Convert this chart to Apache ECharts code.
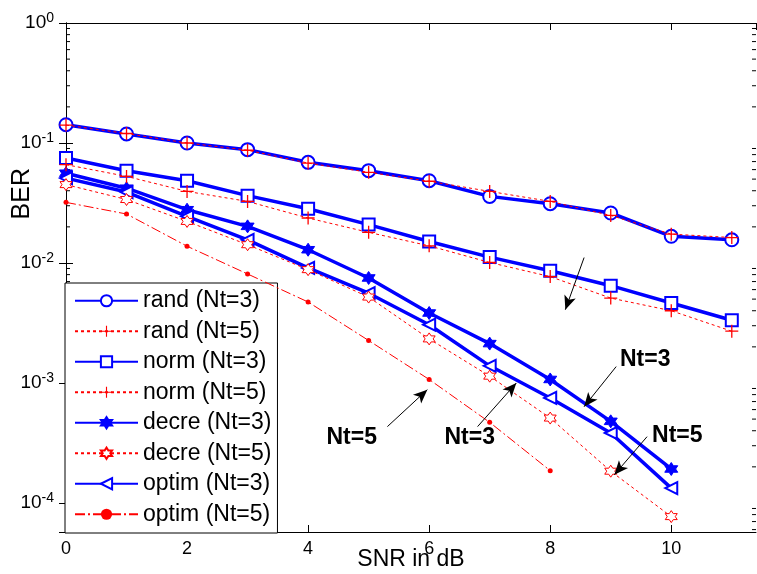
<!DOCTYPE html>
<html>
<head>
<meta charset="utf-8">
<script src="https://cdn.jsdelivr.net/npm/echarts@6/dist/echarts.min.js"></script>
<style>
  html, body { margin: 0; padding: 0; background: #fff; }
  #chart { width: 757px; height: 574px; }
</style>
</head>
<body>
<div id="chart"></div>
<script>
// SNR points (dB)
const snr = [0, 1, 2, 3, 4, 5, 6, 7, 8, 9, 10, 11];

// BER values
const randNt3 = [0.142, 0.119, 0.100, 0.088, 0.069, 0.0588, 0.0485, 0.0359, 0.0312, 0.0261, 0.0167, 0.0156];
const randNt5 = [0.141, 0.120, 0.100, 0.087, 0.068, 0.057, 0.048, 0.0395, 0.0326, 0.0249, 0.0174, 0.0163];
const normNt3 = [0.075, 0.0588, 0.0485, 0.0364, 0.0283, 0.0209, 0.0151, 0.0112, 0.00862, 0.00647, 0.00464, 0.00333];
const normNt5 = [0.066, 0.0527, 0.0395, 0.0326, 0.0237, 0.0180, 0.0139, 0.0101, 0.0077, 0.0051, 0.0040, 0.0027];
const decreNt3 = [0.056, 0.042, 0.0278, 0.0202, 0.0129, 0.0075, 0.00383, 0.00213, 0.00107, 0.000479, 0.000192];
const decreNt5 = [0.045, 0.0338, 0.0222, 0.0142, 0.0088, 0.0052, 0.00233, 0.00114, 0.00051, 0.000184, 0.000077];
const optimNt3 = [0.051, 0.039, 0.0245, 0.0156, 0.0091, 0.0056, 0.00306, 0.00139, 0.00075, 0.000383, 0.000133];
const optimNt5 = [0.032, 0.0256, 0.0138, 0.0081, 0.00473, 0.00226, 0.00107, 0.00047, 0.000186];

// axis ranges
const xMin = 0, xMax = 11.4;
const yMin = 5.73e-5, yMax = 1;
const minorMantissa = [2, 3, 4, 5, 6, 7, 8, 9];
const minorDecades = [-5, -4, -3, -2, -1];

// annotation arrows [from, to] and texts
const arrowLines = [
  [[5.31, 4.33e-4], [5.97, 8.8e-4]],
  [[6.80, 4.33e-4], [7.44, 1.0e-3]],
  [[9.09, 1.37e-3], [8.56, 6.35e-4]],
  [[9.60, 3.57e-4], [9.06, 1.72e-4]],
  [[8.56, 0.0111], [8.25, 0.00408]]
];
const noteTexts = ['Nt=5', 'Nt=3', 'Nt=3', 'Nt=5'];
const noteX = [4.72, 6.67, 9.57, 10.1];
const noteY = [3.5e-4, 3.5e-4, 1.56e-3, 3.64e-4];

const FONT = 'Liberation Sans, Arial, sans-serif';
const BLUE = '#0000ff';
const RED = '#ff0000';

const plusPath = 'path://M4.5,0h1v4.5h4.5v1h-4.5v4.5h-1v-4.5h-4.5v-1h4.5z';
const starPath = 'path://M0,-10L2.9,-5L8.66,-5L5.8,0L8.66,5L2.9,5L0,10L-2.9,5L-8.66,5L-5.8,0L-8.66,-5L-2.9,-5Z';

const pairs = (ys) => ys.map((v, i) => [snr[i], v]);

const minorTicks = [];
minorDecades.forEach(d => {
  minorMantissa.forEach(m => {
    const v = m * Math.pow(10, d);
    if (v > yMin && v < yMax) {
      minorTicks.push([xMin, v, 1]);
      minorTicks.push([xMax, v, -1]);
    }
  });
});

function blueSeries(name, ys, symbol, extra) {
  return Object.assign({
    name: name,
    type: 'line',
    data: pairs(ys),
    symbol: symbol,
    symbolSize: 12,
    lineStyle: { color: BLUE, width: 3.5 },
    itemStyle: { color: BLUE, borderColor: BLUE, borderWidth: 2.5 },
    z: 3
  }, extra || {});
}

function redSeries(name, ys, symbol, size, dash, extra) {
  return Object.assign({
    name: name,
    type: 'line',
    data: pairs(ys),
    symbol: symbol,
    symbolSize: size,
    lineStyle: { color: RED, width: 1, type: dash },
    itemStyle: { color: RED, borderWidth: 0 },
    z: 4
  }, extra || {});
}

const chart = echarts.init(document.getElementById('chart'), null, { renderer: 'canvas' });

const option = {
  animation: false,
  backgroundColor: '#fff',
  textStyle: { fontFamily: FONT },
  grid: { left: 66, right: 1, top: 23, bottom: 42, outerBoundsMode: 'none', containLabel: false },
  legend: {
    orient: 'vertical',
    left: 65,
    top: 283,
    backgroundColor: '#fff',
    borderColor: '#000',
    borderWidth: 1,
    borderRadius: 0,
    padding: [6, 6, 7, 9],
    itemWidth: 63,
    itemHeight: 14,
    itemGap: 7,
    textStyle: { fontSize: 23, color: '#000', fontFamily: FONT, lineHeight: 23.5 },
    data: ['rand (Nt=3)', 'rand (Nt=5)', 'norm (Nt=3)', 'norm (Nt=5)',
           'decre (Nt=3)', 'decre (Nt=5)', 'optim (Nt=3)', 'optim (Nt=5)']
  },
  xAxis: [{
    type: 'value',
    min: xMin,
    max: xMax,
    interval: 2,
    name: 'SNR in dB',
    nameLocation: 'middle',
    nameGap: 16,
    nameMoveOverlap: false,
    nameTextStyle: { fontSize: 23, color: '#000', fontFamily: FONT },
    axisLine: { lineStyle: { color: '#000', width: 1 } },
    axisTick: { inside: true, length: 7, lineStyle: { color: '#000' } },
    axisLabel: { fontSize: 18, color: '#000', margin: 8, showMaxLabel: false },
    splitLine: { show: false }
  }, {
    type: 'value',
    position: 'top',
    min: xMin,
    max: xMax,
    interval: 2,
    axisLine: { show: true, lineStyle: { color: '#000', width: 1 } },
    axisTick: { inside: true, length: 7, lineStyle: { color: '#000' } },
    axisLabel: { show: false },
    splitLine: { show: false }
  }],
  yAxis: [{
    type: 'log',
    min: yMin,
    max: yMax,
    axisLine: { show: true, lineStyle: { color: '#000', width: 1 } },
    axisTick: { inside: true, length: 7, lineStyle: { color: '#000' } },
    axisLabel: {
      fontSize: 19,
      color: '#000',
      margin: 12,
      showMinLabel: false,
      formatter: v => '10{sup|' + Math.round(Math.log10(v)) + '}',
      rich: { sup: { fontSize: 14, fontFamily: FONT, color: '#000', padding: [0, 0, 10, 0] } }
    },
    splitLine: { show: false }
  }, {
    type: 'log',
    position: 'right',
    min: yMin,
    max: yMax,
    axisLine: { show: true, lineStyle: { color: '#000', width: 1 } },
    axisTick: { inside: true, length: 7, lineStyle: { color: '#000' } },
    axisLabel: { show: false },
    splitLine: { show: false }
  }],
  graphic: [{
    type: 'text',
    left: 10,
    top: 168,
    rotation: Math.PI / 2,
    style: { text: 'BER', fontSize: 25, fill: '#000', fontFamily: FONT }
  }],
  series: [
    blueSeries('rand (Nt=3)', randNt3, 'emptyCircle', { symbolSize: 13 }),
    redSeries('rand (Nt=5)', randNt5, plusPath, 13, [3, 3]),
    blueSeries('norm (Nt=3)', normNt3, 'emptyRect', { symbolSize: 12 }),
    redSeries('norm (Nt=5)', normNt5, plusPath, 13, [3, 3]),
    blueSeries('decre (Nt=3)', decreNt3, starPath, {
      symbolSize: 13,
      itemStyle: { color: BLUE, borderColor: BLUE, borderWidth: 1 }
    }),
    redSeries('decre (Nt=5)', decreNt5, starPath, 12, [3, 3], {
      itemStyle: { color: '#fff', borderColor: RED, borderWidth: 1 }
    }),
    blueSeries('optim (Nt=3)', optimNt3, 'emptyTriangle', { symbolSize: 12, symbolRotate: 90 }),
    redSeries('optim (Nt=5)', optimNt5, 'circle', 5, [10, 3, 2, 3]),
    {
      name: 'notes',
      type: 'line',
      data: [],
      silent: true,
      markLine: {
        silent: true,
        symbol: ['none', 'arrow'],
        symbolSize: [9, 14],
        label: { show: false },
        lineStyle: { color: '#000', width: 1, type: 'solid' },
        emphasis: { disabled: true },
        data: arrowLines.map(l => [{ coord: l[0] }, { coord: l[1] }])
      },
      markPoint: {
        silent: true,
        symbol: 'circle',
        symbolSize: 1,
        itemStyle: { color: 'rgba(0,0,0,0)' },
        label: {
          show: true,
          position: 'inside',
          formatter: '{b}',
          fontSize: 23,
          fontWeight: 'bold',
          color: '#000',
          fontFamily: FONT
        },
        data: noteTexts.map((t, i) => ({ name: t, coord: [noteX[i], noteY[i]] }))
      },
      z: 5
    },
    {
      name: 'minor ticks',
      type: 'custom',
      silent: true,
      data: minorTicks,
      clip: false,
      renderItem: (params, api) => {
        const p = api.coord([api.value(0), api.value(1)]);
        const dir = api.value(2);
        return {
          type: 'line',
          shape: { x1: p[0], y1: p[1], x2: p[0] + 4 * dir, y2: p[1] },
          style: { stroke: '#000', lineWidth: 1 }
        };
      },
      z: 1
    }
  ]
};

chart.setOption(option);
window.addEventListener('resize', () => chart.resize());
</script>
</body>
</html>
